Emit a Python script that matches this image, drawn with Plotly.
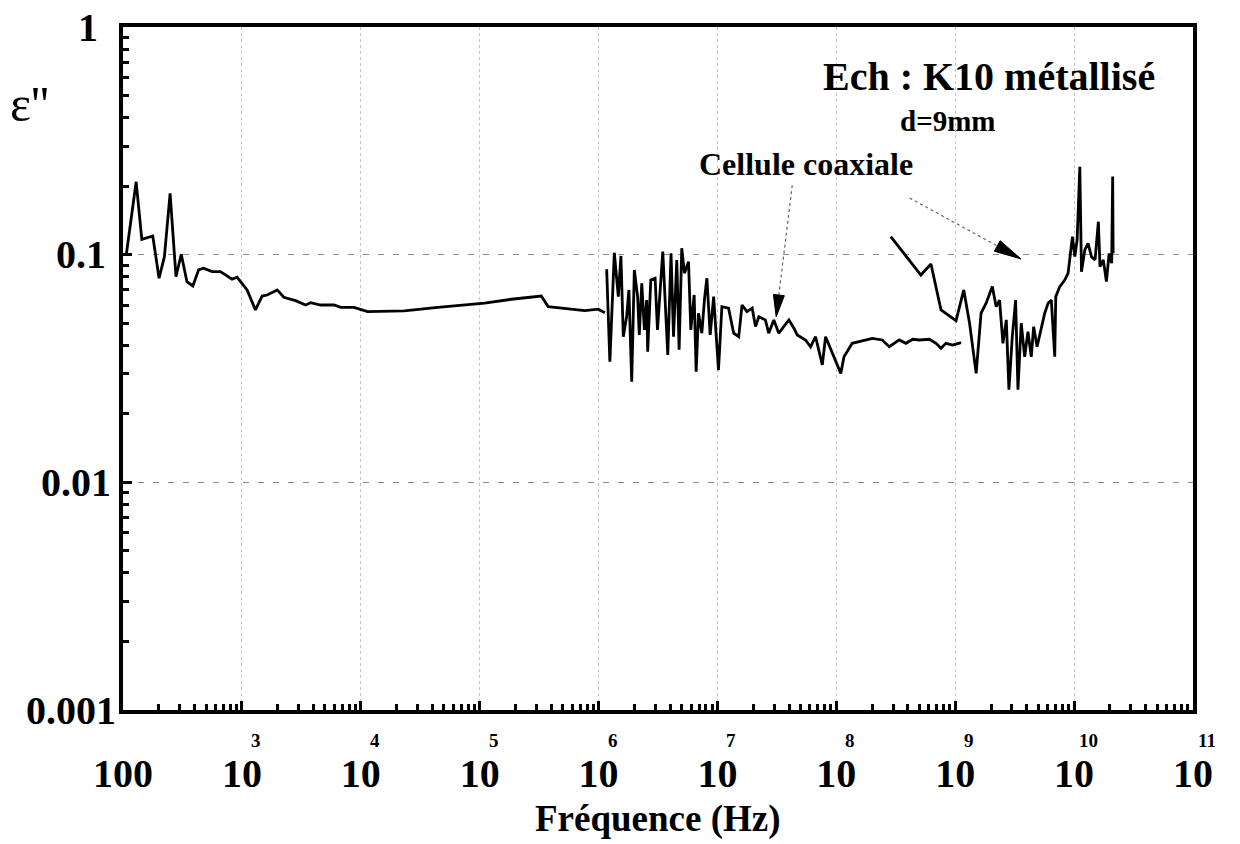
import math
import plotly.graph_objects as go

# ---------------- data ----------------
seg1_freq = [107, 129, 144, 178, 201, 223, 249, 279, 309, 345, 387, 432, 476, 561, 659, 827, 911,
             1106, 1300, 1480, 1632, 1982, 2254, 2827, 3434, 3784, 4595, 5955, 6780, 8777,
             11400, 14760, 23200, 44400, 1.10e5, 1.85e5, 3.30e5, 3.77e5, 7.66e5, 9.94e5, 1.13e6]
seg1_eps = [0.1014, 0.209, 0.1168, 0.1208, 0.0788, 0.0980, 0.186, 0.0800, 0.1004, 0.0761,
            0.0729, 0.0857, 0.0872, 0.0842, 0.0842, 0.0780, 0.0796, 0.0700, 0.0572, 0.0658,
            0.0665, 0.0700, 0.0650, 0.0628, 0.0601, 0.0615, 0.0601, 0.0601, 0.0587, 0.0587,
            0.0562, 0.0562, 0.0566, 0.0587, 0.0612, 0.0637, 0.0658, 0.0591, 0.0568, 0.0576, 0.0556]

seg2_freq = [1.17e6, 1.245e6, 1.357e6, 1.466e6, 1.542e6, 1.615e6, 1.722e6, 1.80e6, 1.90e6, 2.00e6,
             2.13e6, 2.20e6, 2.31e6, 2.43e6, 2.54e6, 2.59e6, 2.75e6, 2.99e6, 3.13e6, 3.29e6,
             3.47e6, 3.82e6, 4.07e6, 4.27e6, 4.55e6, 4.76e6, 5.01e6, 5.28e6, 5.71e6, 5.97e6,
             6.37e6, 6.62e6, 6.93e6, 7.39e6, 7.79e6, 8.15e6, 8.69e6, 9.29e6, 1.02e7, 1.09e7,
             1.24e7, 1.37e7, 1.51e7, 1.61e7, 1.77e7, 1.96e7, 2.09e7, 2.23e7, 2.53e7, 2.70e7,
             2.98e7, 3.28e7, 3.62e7, 3.99e7, 4.40e7, 4.69e7, 5.51e7, 6.07e7, 6.69e7, 7.62e7,
             8.12e7, 9.25e7, 1.09e8, 1.16e8, 1.36e8, 2.01e8, 2.43e8, 2.79e8, 3.38e8, 3.85e8,
             4.38e8, 4.99e8, 6.06e8, 6.89e8, 7.59e8, 8.36e8, 9.53e8, 1.12e9]
seg2_eps = [0.0863, 0.0339, 0.102, 0.0654, 0.0987, 0.0436, 0.0534, 0.0700, 0.0277, 0.0857,
            0.0654, 0.0444, 0.0749, 0.0467, 0.0632, 0.0375, 0.0774, 0.0788, 0.0467, 0.0724,
            0.1031, 0.0363, 0.1014, 0.0436, 0.0948, 0.0382, 0.1067, 0.0829, 0.0932, 0.0467,
            0.0665, 0.0306, 0.0553, 0.0452, 0.0643, 0.0788, 0.0444, 0.0654, 0.0311, 0.0591,
            0.0582, 0.0452, 0.0436, 0.0601, 0.0562, 0.0582, 0.0483, 0.0534, 0.0517, 0.0452,
            0.0517, 0.0452, 0.0483, 0.0517, 0.0475, 0.0444, 0.0422, 0.0394, 0.0436, 0.0328,
            0.0436, 0.0369, 0.0301, 0.0356, 0.0408, 0.0429, 0.0422, 0.0394, 0.0422, 0.0408,
            0.0425, 0.0422, 0.0425, 0.0408, 0.0388, 0.0408, 0.0401, 0.0411]

seg3_freq = [2.87e8, 5.14e8, 6.25e8, 7.59e8, 1.016e9, 1.18e9, 1.32e9, 1.50e9, 1.65e9, 1.82e9,
             2.05e9, 2.21e9, 2.36e9, 2.52e9, 2.69e9, 2.83e9, 3.02e9, 3.22e9, 3.37e9, 3.59e9,
             3.84e9, 4.09e9, 4.36e9, 4.57e9, 4.88e9, 5.20e9, 5.66e9, 6.04e9, 6.43e9, 6.87e9,
             7.01e9, 7.57e9, 8.34e9, 8.90e9, 9.31e9, 9.68e9, 1.014e10, 1.06e10, 1.117e10, 1.153e10,
             1.23e10, 1.31e10, 1.40e10, 1.50e10, 1.60e10, 1.65e10, 1.76e10, 1.87e10, 1.97e10, 2.07e10,
             2.11e10, 2.13e10]
seg3_eps = [0.120, 0.0814, 0.0910, 0.0572, 0.0513, 0.0700, 0.0500, 0.0301, 0.0553, 0.0612,
            0.0724, 0.0591, 0.0632, 0.0408, 0.0517, 0.0255, 0.0436, 0.0632, 0.0255, 0.0500,
            0.0356, 0.0459, 0.0356, 0.0483, 0.0394, 0.0452, 0.0553, 0.0612, 0.0632, 0.0356,
            0.0654, 0.0724, 0.0774, 0.0829, 0.1049, 0.120, 0.0980, 0.1160, 0.2434, 0.0842,
            0.1049, 0.1122, 0.0980, 0.0948, 0.1396, 0.0886, 0.0948, 0.0761, 0.1014, 0.0917,
            0.2202, 0.1014]

x_tickvals = [1e2, 1e3, 1e4, 1e5, 1e6, 1e7, 1e8, 1e9, 1e10, 1e11]
x_ticktext = ["100"] + ["10"] * 9
x_exponents = ["", "3", "4", "5", "6", "7", "8", "9", "10", "11"]
y_tickvals = [0.001, 0.01, 0.1, 1]
y_ticktext = ["0.001", "0.01", "0.1", "1"]

# arrows: (start freq, start eps) -> (tip freq, tip eps)
arrow1 = ((4.26e7, 0.202), (3.12e7, 0.0533))
arrow2 = ((4.13e8, 0.1775), (3.57e9, 0.0958))

# ---------------- layout geometry ----------------
W, H = 1240, 844
ML, MR, MT, MB = 123, 47, 27, 134
PW, PH = W - ML - MR, H - MT - MB
XLOG = (2, 11)
YLOG = (-3, 0)
FONT = "Liberation Serif"

fig = go.Figure()
for fx, fy in [(seg1_freq, seg1_eps), (seg2_freq, seg2_eps), (seg3_freq, seg3_eps)]:
    fig.add_trace(go.Scatter(x=fx, y=fy, mode="lines",
                             line=dict(color="black", width=2.8),
                             showlegend=False, hoverinfo="skip"))

minor_x = [k * 10 ** n for n in range(2, 11) for k in range(2, 10)]
minor_y = [k * 10 ** n for n in range(-3, 0) for k in range(2, 10)]

fig.update_xaxes(type="log", range=list(XLOG), tickvals=x_tickvals, ticktext=x_ticktext,
                 ticks="inside", ticklen=9, tickwidth=3, tickcolor="black",
                 showline=True, linecolor="black", linewidth=4, mirror=True,
                 showgrid=True, gridcolor="#c4c4c4", gridwidth=1, griddash="dot",
                 zeroline=False, ticklabelstandoff=25,
                 tickfont=dict(family=FONT, size=40, color="black", weight="bold"),
                 minor=dict(tickvals=minor_x, ticks="inside", ticklen=6, tickwidth=3,
                            tickcolor="black", showgrid=False))
fig.update_yaxes(type="log", range=list(YLOG), tickvals=y_tickvals, ticktext=y_ticktext,
                 showticklabels=False,
                 ticks="inside", ticklen=9, tickwidth=3, tickcolor="black",
                 showline=True, linecolor="black", linewidth=4, mirror=True,
                 showgrid=True, gridcolor="#8a8a8a", gridwidth=1, griddash="6px,9px",
                 zeroline=False,
                 minor=dict(tickvals=minor_y, ticks="inside", ticklen=6, tickwidth=3,
                            tickcolor="black", showgrid=False))


def to_plot_px(f, e):
    x = (math.log10(f) - XLOG[0]) / (XLOG[1] - XLOG[0]) * PW
    y = (math.log10(e) - YLOG[0]) / (YLOG[1] - YLOG[0]) * PH
    return x, y


shapes = []
for (s, t), head_len, head_w in [(arrow1, 22, 11), (arrow2, 27, 12)]:
    sx, sy = to_plot_px(*s)
    tx, ty = to_plot_px(*t)
    dx, dy = tx - sx, ty - sy
    L = math.hypot(dx, dy)
    ux, uy = dx / L, dy / L
    bx, by = tx - ux * head_len, ty - uy * head_len
    nx, ny = -uy, ux
    p1 = (bx + nx * head_w / 2, by + ny * head_w / 2)
    p2 = (bx - nx * head_w / 2, by - ny * head_w / 2)
    shapes.append(dict(type="line", xref="paper", yref="paper",
                       x0=sx / PW, y0=sy / PH, x1=bx / PW, y1=by / PH,
                       line=dict(color="#666666", width=1.2, dash="dot")))
    path = "M %f,%f L %f,%f L %f,%f Z" % (tx / PW, ty / PH, p1[0] / PW, p1[1] / PH,
                                          p2[0] / PW, p2[1] / PH)
    shapes.append(dict(type="path", xref="paper", yref="paper", path=path,
                       fillcolor="black", line=dict(color="black", width=1)))


def paper_y(py):
    return (H - MB - py) / PH


def paper_x(px):
    return (px - ML) / PW


annotations = [
    dict(text="ε''", xref="paper", yref="paper", x=paper_x(29), y=paper_y(104),
         showarrow=False, font=dict(family=FONT, size=50, color="black"),
         xanchor="center", yanchor="middle"),
    dict(text="<b>Ech : K10 métallisé</b>", xref="paper", yref="paper",
         x=paper_x(989), y=paper_y(77), showarrow=False,
         font=dict(family=FONT, size=40, color="black"), xanchor="center", yanchor="middle"),
    dict(text="<b>d=9mm</b>", xref="paper", yref="paper",
         x=paper_x(947), y=paper_y(121), showarrow=False,
         font=dict(family=FONT, size=29, color="black"), xanchor="center", yanchor="middle"),
    dict(text="<b>Cellule coaxiale</b>", xref="paper", yref="paper",
         x=paper_x(806), y=paper_y(164), showarrow=False,
         font=dict(family=FONT, size=32, color="black"), xanchor="center", yanchor="middle"),
    dict(text="<b>Fréquence (Hz)</b>", xref="paper", yref="paper",
         x=0.5, y=paper_y(819), showarrow=False,
         font=dict(family=FONT, size=37, color="black"), xanchor="center", yanchor="middle"),
]

# y tick labels (right edges as in the reference)
y_label_right = [118, 113, 108, 100]
for val, txt, rx in zip(y_tickvals, y_ticktext, y_label_right):
    annotations.append(dict(text="<b>%s</b>" % txt, xref="paper", yref="y",
                            x=paper_x(rx), y=math.log10(val), showarrow=False,
                            font=dict(family=FONT, size=40, color="black"),
                            xanchor="right", yanchor="middle"))

# exponents of x tick labels
for val, ex in zip(x_tickvals, x_exponents):
    if ex:
        annotations.append(dict(text="<b>%s</b>" % ex, xref="x", yref="paper",
                                x=math.log10(val), y=paper_y(740), xshift=14,
                                showarrow=False,
                                font=dict(family=FONT, size=19, color="black"),
                                xanchor="center", yanchor="middle"))

fig.update_layout(width=W, height=H, margin=dict(l=ML, r=MR, t=MT, b=MB),
                  paper_bgcolor="white", plot_bgcolor="white",
                  shapes=shapes, annotations=annotations, showlegend=False)

fig.write_html("out.html")
